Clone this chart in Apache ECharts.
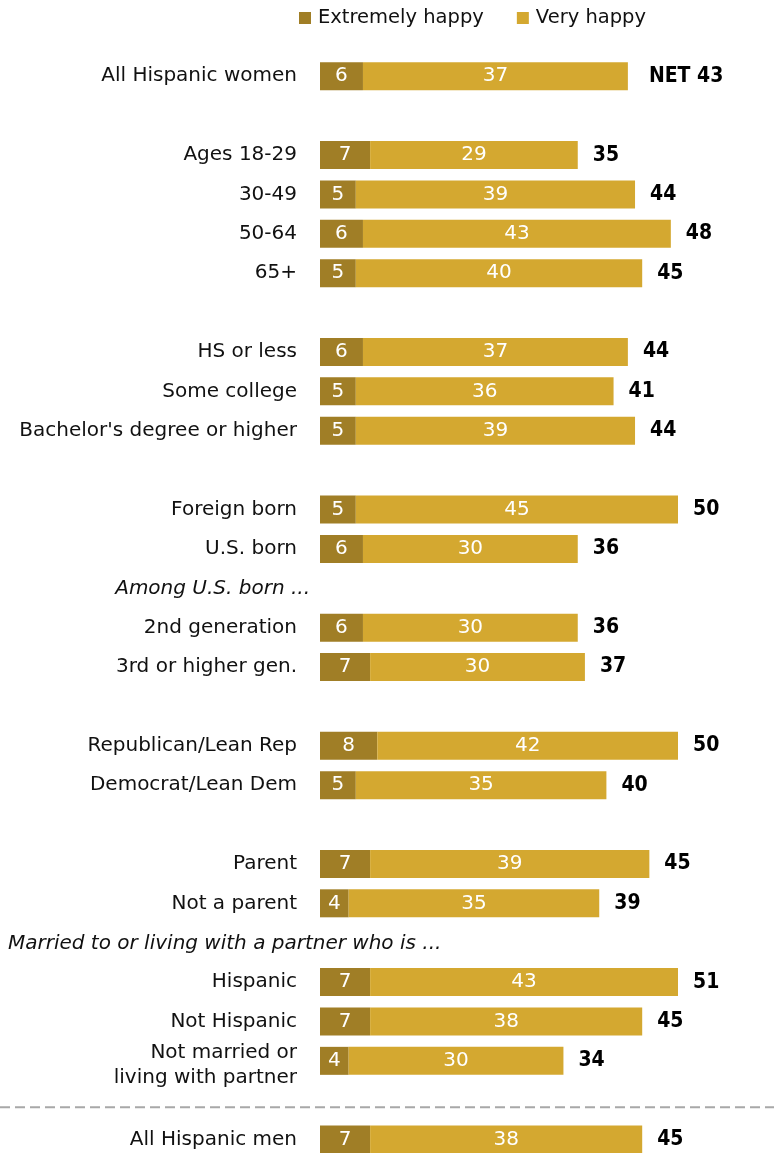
<!DOCTYPE html>
<html><head><meta charset="utf-8">
<script src="https://cdn.jsdelivr.net/npm/echarts@6/dist/echarts.min.js"></script>
<style>html,body{margin:0;padding:0;background:#fff}#c{width:774px;height:1153px}</style>
</head><body><div id="c"></div>
<script>
// Rows top to bottom (blank keys are spacer rows)
const categories = [
  'All Hispanic women', ' ',
  'Ages 18-29', '30-49', '50-64', '65+', '  ',
  'HS or less', 'Some college', "Bachelor's degree or higher", '   ',
  'Foreign born', 'U.S. born', 'Among U.S. born ...', '2nd generation', '3rd or higher gen.', '    ',
  'Republican/Lean Rep', 'Democrat/Lean Dem', '     ',
  'Parent', 'Not a parent', 'Married to or living with a partner who is ...',
  'Hispanic', 'Not Hispanic', 'Not married or\nliving with partner', '      ',
  'All Hispanic men'
];
const headerLabels = ['Among U.S. born ...', 'Married to or living with a partner who is ...'];
const extremelyHappy = [6, null, 7, 5, 6, 5, null, 6, 5, 5, null, 5, 6, null, 6, 7, null, 8, 5, null, 7, 4, null, 7, 7, 4, null, 7];
const veryHappy      = [37, null, 29, 39, 43, 40, null, 37, 36, 39, null, 45, 30, null, 30, 30, null, 42, 35, null, 39, 35, null, 43, 38, 30, null, 38];
const netLabels      = ['NET 43', '', '35', '44', '48', '45', '', '44', '41', '44', '', '50', '36', '', '36', '37', '', '50', '40', '', '45', '39', '', '51', '45', '34', '', '45'];
const seriesNames = ['Extremely happy', 'Very happy'];

const FONT = 'DejaVu Sans';
const BOLD = '"DejaVu Sans Condensed", "DejaVu Sans"';
const DARK = '#A07E26', LIGHT = '#D4A830';

const chart = echarts.init(document.getElementById('c'), null, {renderer: 'canvas'});
const netAnchor = netLabels.map(s => s === '' ? null : 0);

const inLabel = {show: true, position: 'inside', color: '#fff', fontSize: 20, fontFamily: FONT, fontWeight: 'normal'};

chart.setOption({
  animation: false,
  backgroundColor: '#fff',
  legend: {
    data: seriesNames, left: 294, top: 3, itemWidth: 12, itemHeight: 12, itemGap: 33, icon: 'rect',
    selectedMode: false,
    textStyle: {fontSize: 19.5, color: '#111', fontFamily: FONT, padding: [0, 0, 0, 2]}
  },
  grid: {left: 320, top: 56.6, width: 358, height: 1102.7, containLabel: false, outerBoundsMode: 'none'},
  xAxis: {type: 'value', min: 0, max: 50, show: false},
  yAxis: {
    type: 'category', inverse: true, data: categories,
    axisLine: {show: false}, axisTick: {show: false}, splitLine: {show: false},
    axisLabel: {
      margin: 23, fontSize: 20, color: '#111', fontFamily: FONT,
      interval: 0,
      formatter: function (v) {
        if (headerLabels.indexOf(v) >= 0) return '';
        if (v.indexOf('\n') >= 0) {
          const parts = v.split('\n');
          return '{sp| }{a|' + parts[0] + '}\n{b|' + parts[1] + '}';
        }
        return v;
      },
      rich: {
        sp: {fontSize: 20, fontFamily: FONT, lineHeight: 34},
        a: {fontSize: 20, fontFamily: FONT, color: '#111', lineHeight: 22, verticalAlign: 'bottom'},
        b: {fontSize: 20, fontFamily: FONT, color: '#111', lineHeight: 30}
      }
    }
  },
  series: [
    {name: seriesNames[0], type: 'bar', stack: 't', barWidth: 28, data: extremelyHappy,
      itemStyle: {color: DARK}, label: inLabel, emphasis: {disabled: true}},
    {name: seriesNames[1], type: 'bar', stack: 't', barWidth: 28, data: veryHappy,
      itemStyle: {color: LIGHT}, label: inLabel, emphasis: {disabled: true}},
    {name: 'net', type: 'bar', stack: 't', barWidth: 28, data: netAnchor,
      itemStyle: {color: 'rgba(0,0,0,0)'}, emphasis: {disabled: true},
      label: {show: true, position: 'right', distance: 15, color: '#000', fontSize: 21, fontWeight: 'bold', fontFamily: BOLD,
        formatter: p => p.dataIndex === 0 ? '{net|' + netLabels[0] + '}' : netLabels[p.dataIndex],
        rich: {net: {fontSize: 21, fontWeight: 'bold', fontFamily: BOLD, color: '#000', padding: [0, 0, 0, 6]}}}}
  ]
});

// Header annotations and divider placed from the category axis positions
const yOf = c => chart.convertToPixel({yAxisIndex: 0}, c);
const yHdr1 = yOf(headerLabels[0]);
const yHdr2 = yOf(headerLabels[1]);
const ySep = (yOf(categories[25]) + yOf(categories[27])) / 2 + 7;
chart.setOption({
  graphic: [
    {type: 'text', x: 310, y: yHdr1 + 1, style: {text: headerLabels[0], align: 'right', verticalAlign: 'middle', fontSize: 20, fontStyle: 'italic', fontFamily: FONT, fill: '#111'}},
    {type: 'text', x: 8, y: yHdr2 + 1, style: {text: headerLabels[1], align: 'left', verticalAlign: 'middle', fontSize: 20, fontStyle: 'italic', fontFamily: FONT, fill: '#111'}},
    {type: 'line', shape: {x1: 0, y1: ySep, x2: 774, y2: ySep}, style: {stroke: '#A8A8A8', lineWidth: 2, lineDash: [10, 5]}}
  ]
});
</script></body></html>
